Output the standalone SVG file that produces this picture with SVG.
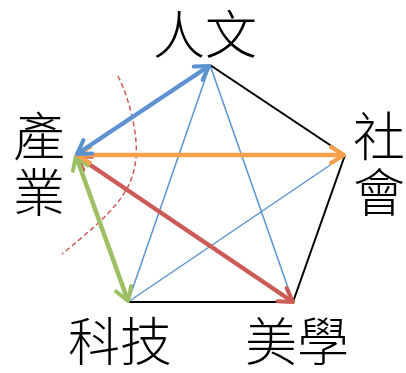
<svg xmlns="http://www.w3.org/2000/svg" width="406" height="373" viewBox="0 0 406 373">
<style>
.lbl{font-family:"Noto Sans CJK TC","Noto Sans CJK SC",sans-serif;font-size:52px;font-weight:300;fill:#000}
.edge{stroke:#000;stroke-width:2;fill:none}
.thin{stroke:#5B93CE;stroke-width:1.5;fill:none}
.thick{stroke-width:4.5;fill:none}
</style>
<defs>
<marker id="mb" markerUnits="userSpaceOnUse" viewBox="-16 -10 20 20" refX="0" refY="0" markerWidth="20" markerHeight="20" orient="auto-start-reverse"><path d="M-13,-8 L0,0 L-13,8" fill="none" stroke="#5B93CE" stroke-width="4" stroke-linecap="round" stroke-linejoin="round"/></marker>
<marker id="mo" markerUnits="userSpaceOnUse" viewBox="-16 -10 20 20" refX="0" refY="0" markerWidth="20" markerHeight="20" orient="auto-start-reverse"><path d="M-13,-8 L0,0 L-13,8" fill="none" stroke="#F8A04C" stroke-width="4" stroke-linecap="round" stroke-linejoin="round"/></marker>
<marker id="mr" markerUnits="userSpaceOnUse" viewBox="-16 -10 20 20" refX="0" refY="0" markerWidth="20" markerHeight="20" orient="auto-start-reverse"><path d="M-13,-8 L0,0 L-13,8" fill="none" stroke="#CC5B55" stroke-width="4" stroke-linecap="round" stroke-linejoin="round"/></marker>
<marker id="mg" markerUnits="userSpaceOnUse" viewBox="-16 -10 20 20" refX="0" refY="0" markerWidth="20" markerHeight="20" orient="auto-start-reverse"><path d="M-13,-8 L0,0 L-13,8" fill="none" stroke="#9CC063" stroke-width="4" stroke-linecap="round" stroke-linejoin="round"/></marker>
</defs>
<g id="connectors">
<line class="edge" x1="210" y1="65" x2="345" y2="155"/>
<line class="edge" x1="345" y1="155" x2="293" y2="302"/>
<line class="edge" x1="293" y1="302" x2="128" y2="302"/>
<line class="thin" x1="210" y1="65" x2="128" y2="302"/>
<line class="thin" x1="210" y1="65" x2="293" y2="302"/>
<line class="thin" x1="345" y1="155" x2="128" y2="302"/>
<path d="M118,76 C130,100 140,140 135,165 C130,195 110,215 62,254" fill="none" stroke="#CC5B55" stroke-width="1.5" stroke-dasharray="5,3"/>
<line class="thick" stroke="#CC5B55" x1="77" y1="156" x2="293" y2="302" marker-start="url(#mr)" marker-end="url(#mr)"/>
<line class="thick" stroke="#9CC063" x1="76" y1="156" x2="128" y2="301" marker-start="url(#mg)" marker-end="url(#mg)"/>
<line class="thick" stroke="#F8A04C" x1="77" y1="155" x2="344" y2="155" marker-start="url(#mo)" marker-end="url(#mo)"/>
<line class="thick" stroke="#5B93CE" x1="77" y1="154" x2="209" y2="66" marker-start="url(#mb)" marker-end="url(#mb)"/>
</g>
<g id="n-renwen"><text class="lbl" x="153" y="54">人文</text></g>
<g id="n-shehui"><text class="lbl" x="353" y="156">社</text><text class="lbl" x="353" y="212">會</text></g>
<g id="n-chanye"><text class="lbl" x="13" y="156">產</text><text class="lbl" x="13" y="212">業</text></g>
<g id="n-keji"><text class="lbl" x="68" y="361">科技</text></g>
<g id="n-meixue"><text class="lbl" x="245" y="361">美學</text></g>
</svg>
